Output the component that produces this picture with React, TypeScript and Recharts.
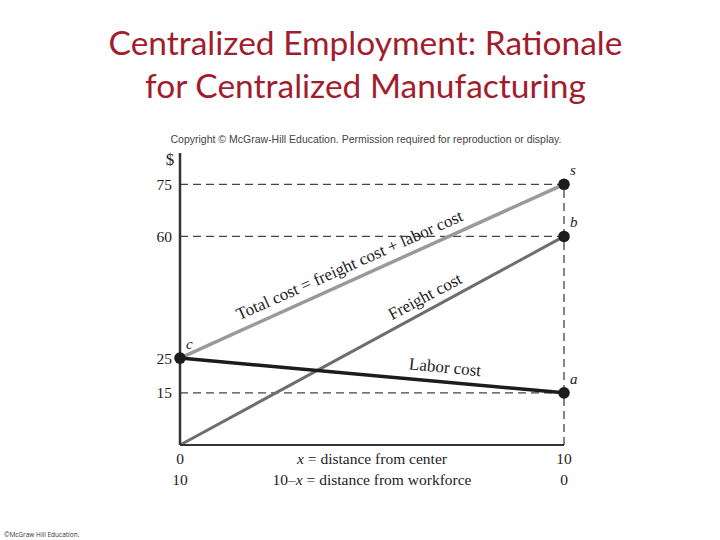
import { ComposedChart, Line, Scatter, XAxis, YAxis, ReferenceLine, ReferenceDot } from 'recharts';

// values
const totalCost = [{ x: 0, y: 25 }, { x: 10, y: 75 }];
const freightCost = [{ x: 0, y: 0 }, { x: 10, y: 60 }];
const laborCost = [{ x: 0, y: 25 }, { x: 10, y: 15 }];
const guideLevels = [75, 60, 15];
const yTicks = [15, 25, 60, 75];
const xTicks = [0, 10];
const namedPoints = [
  { x: 0, y: 25, name: 'c' },
  { x: 10, y: 75, name: 's' },
  { x: 10, y: 60, name: 'b' },
  { x: 10, y: 15, name: 'a' },
];
const lineLabels = [
  { x: 4.43, y: 51.3, text: 'Total cost = freight cost + labor cost', angle: -24 },
  { x: 6.4, y: 42.3, text: 'Freight cost', angle: -28 },
  { x: 6.9, y: 21.9, text: 'Labor cost', angle: 5.6 },
];

const serif = '"Liberation Serif", "DejaVu Serif", serif';
const ink = '#222';

function XTick(props: any) {
  const { x, y, payload } = props;
  return (
    <g>
      <text x={x} y={y + 11} textAnchor="middle" fontFamily={serif} fontSize={15.5} fill={ink}>{payload.value}</text>
      <text x={x} y={y + 32} textAnchor="middle" fontFamily={serif} fontSize={15.5} fill={ink}>{10 - payload.value}</text>
    </g>
  );
}

function XCaption(props: any) {
  const { x, y, width } = props.viewBox;
  const cx = x + width / 2;
  return (
    <g fontFamily={serif} fontSize={15.5} fill={ink} textAnchor="middle">
      <text x={cx} y={y + 19}><tspan fontStyle="italic">x</tspan> = distance from center</text>
      <text x={cx} y={y + 40}>10–<tspan fontStyle="italic">x</tspan> = distance from workforce</text>
    </g>
  );
}

function DollarSign(props: any) {
  const { x, y, width } = props.viewBox;
  return <text x={x + width - 10} y={y + 12} textAnchor="middle" fontFamily={serif} fontSize={17} fill={ink}>$</text>;
}

function PointShape(props: any) {
  const { cx, cy, payload } = props;
  return (
    <g>
      <circle cx={cx} cy={cy} r={5.8} fill="#1c1c1c" />
      <text x={cx + 6} y={cy - 9} fontFamily={serif} fontStyle="italic" fontSize={15} fill={ink}>{payload.name}</text>
    </g>
  );
}

export default function App() {
  return (
    <div style={{ position: 'absolute', left: 0, top: 0, width: 720, height: 540, background: 'white' }}>
      <div style={{ position: 'absolute', left: 0, top: 21, width: 731, textAlign: 'center', color: '#a11d2e', fontFamily: 'Lato, "Open Sans", sans-serif', fontSize: 33.5, lineHeight: '43px' }}>
        Centralized Employment: Rationale<br />for Centralized Manufacturing
      </div>
      <div style={{ position: 'absolute', left: 0, top: 133, width: 732, textAlign: 'center', color: '#444', fontFamily: '"Liberation Sans", Arial, sans-serif', fontSize: 10.5 }}>
        Copyright © McGraw-Hill Education. Permission required for reproduction or display.
      </div>
      <div style={{ position: 'absolute', left: 4, top: 530, color: '#333', fontFamily: '"Open Sans", sans-serif', fontSize: 6.5 }}>
        ©McGraw Hill Education.
      </div>
      <div style={{ position: 'absolute', left: 0, top: 0 }}>
        <ComposedChart width={720} height={540} margin={{ top: 153, right: 156, bottom: 45, left: 150 }}>
          <XAxis
            type="number"
            dataKey="x"
            domain={[0, 10]}
            ticks={xTicks}
            tick={<XTick />}
            tickLine={false}
            axisLine={{ stroke: '#333', strokeWidth: 2 }}
            height={50}
            label={<XCaption />}
          />
          <YAxis
            type="number"
            dataKey="y"
            domain={[0, 84]}
            ticks={yTicks}
            tickLine={false}
            width={30}
            tick={{ fontFamily: serif, fontSize: 15.5, fill: ink }}
            axisLine={{ stroke: '#333', strokeWidth: 2.5 }}
            label={<DollarSign />}
          />
          {guideLevels.map((v) => (
            <ReferenceLine key={v} segment={[{ x: 0, y: v }, { x: 10, y: v }]} stroke="#444" strokeWidth={1.3} strokeDasharray="8 5" />
          ))}
          <ReferenceLine segment={[{ x: 10, y: 0 }, { x: 10, y: 75 }]} stroke="#444" strokeWidth={1.3} strokeDasharray="8 5" />
          <Line data={totalCost} dataKey="y" type="linear" stroke="#9a9a9a" strokeWidth={3.5} dot={false} isAnimationActive={false} />
          <Line data={freightCost} dataKey="y" type="linear" stroke="#6e6e6e" strokeWidth={3} dot={false} isAnimationActive={false} />
          <Line data={laborCost} dataKey="y" type="linear" stroke="#1c1c1c" strokeWidth={3.5} dot={false} isAnimationActive={false} />
          <Scatter data={namedPoints} dataKey="y" shape={<PointShape />} isAnimationActive={false} />
          {lineLabels.map((l) => (
            <ReferenceDot
              key={l.text}
              x={l.x}
              y={l.y}
              r={0}
              shape={(p: any) => (
                <text
                  x={p.cx}
                  y={p.cy}
                  textAnchor="middle"
                  dominantBaseline="middle"
                  transform={`rotate(${l.angle} ${p.cx} ${p.cy})`}
                  fontFamily={serif}
                  fontSize={17}
                  fill={ink}
                >
                  {l.text}
                </text>
              )}
            />
          ))}
        </ComposedChart>
      </div>
    </div>
  );
}
